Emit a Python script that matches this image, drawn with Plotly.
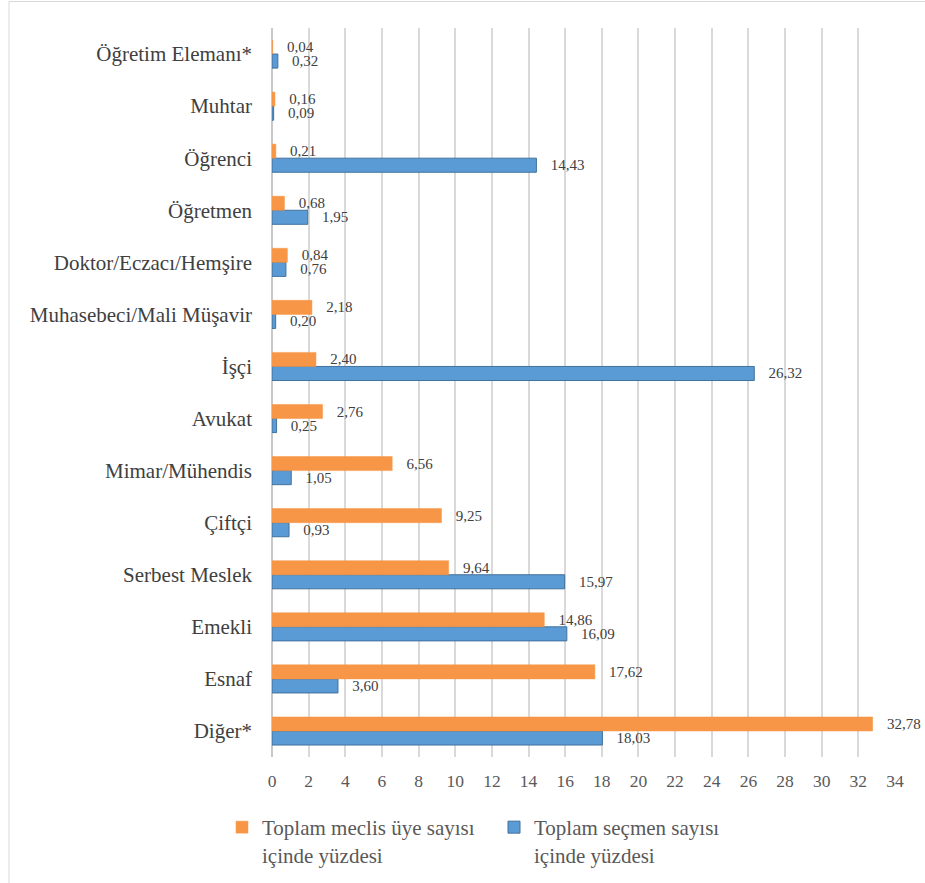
import plotly.graph_objects as go

categories = ["Diğer*", "Esnaf", "Emekli", "Serbest Meslek", "Çiftçi", "Mimar/Mühendis",
              "Avukat", "İşçi", "Muhasebeci/Mali Müşavir", "Doktor/Eczacı/Hemşire",
              "Öğretmen", "Öğrenci", "Muhtar", "Öğretim Elemanı*"]
meclis = [32.78, 17.62, 14.86, 9.64, 9.25, 6.56, 2.76, 2.40, 2.18, 0.84, 0.68, 0.21, 0.16, 0.04]
secmen = [18.03, 3.60, 16.09, 15.97, 0.93, 1.05, 0.25, 26.32, 0.20, 0.76, 1.95, 14.43, 0.09, 0.32]
x_ticks = list(range(0, 35, 2))

name_meclis = "Toplam meclis üye sayısı<br>içinde yüzdesi"
name_secmen = "Toplam seçmen sayısı<br>içinde yüzdesi"

W, H = 925, 883
ML, MR, MT, MB = 272, 30, 28, 126
pw = W - ML - MR
ph = H - MT - MB

SERIF = "Liberation Serif"
pad = "\u00a0\u00a0\u00a0"
label_font = dict(family=SERIF, size=15, color="#404040")

fig = go.Figure()
fig.add_trace(go.Bar(
    y=categories, x=secmen, orientation="h", name=name_secmen,
    marker=dict(color="#5B9BD5", line=dict(color="#41719C", width=1)),
    texttemplate=pad + "%{x:.2f}", textposition="outside", textfont=label_font,
    constraintext="none", cliponaxis=False, hoverinfo="x+y", legendrank=2,
))
fig.add_trace(go.Bar(
    y=categories, x=meclis, orientation="h", name=name_meclis,
    marker=dict(color="#F79646", line=dict(color="#F79646", width=0.5)),
    texttemplate=pad + "%{x:.2f}", textposition="outside", textfont=label_font,
    constraintext="none", cliponaxis=False, hoverinfo="x+y", legendrank=1,
))

fig.update_layout(
    width=W, height=H,
    margin=dict(l=ML, r=MR, t=MT, b=MB),
    barmode="group", bargap=0.46, bargroupgap=0,
    separators=",.",
    plot_bgcolor="white", paper_bgcolor="white",
    font=dict(family=SERIF, color="#595959"),
    xaxis=dict(
        range=[0, 34], tickvals=x_ticks, ticktext=[str(v) for v in x_ticks],
        showgrid=True, gridcolor="#D9D9D9", gridwidth=1.5,
        zeroline=True, zerolinecolor="#C8C8C8", zerolinewidth=1.5,
        showline=False, ticks="", ticklabelstandoff=11,
        tickfont=dict(family=SERIF, size=17.5, color="#595959"),
    ),
    yaxis=dict(
        showgrid=False, zeroline=False, showline=False, ticks="",
        ticklabelstandoff=19,
        tickfont=dict(family=SERIF, size=21, color="#404040"),
    ),
    legend=dict(
        orientation="h", xref="container", yref="container",
        x=222 / W, y=1 - 807 / H, xanchor="left", yanchor="top",
        valign="top", entrywidth=227, entrywidthmode="pixels",
        font=dict(family=SERIF, size=21, color="#595959"),
        bgcolor="rgba(0,0,0,0)",
    ),
    showlegend=True,
    shapes=[dict(
        type="rect", xref="paper", yref="paper",
        x0=(9 - ML) / pw, x1=(W + 20 - ML) / pw,
        y0=-(MB + 20) / ph, y1=(ph + MT - 1.5) / ph,
        line=dict(color="#D9D9D9", width=1), fillcolor="rgba(0,0,0,0)", layer="below",
    )],
)

fig.write_html("out.html", config={"displayModeBar": False},
               post_script="document.body.style.margin='0';")
